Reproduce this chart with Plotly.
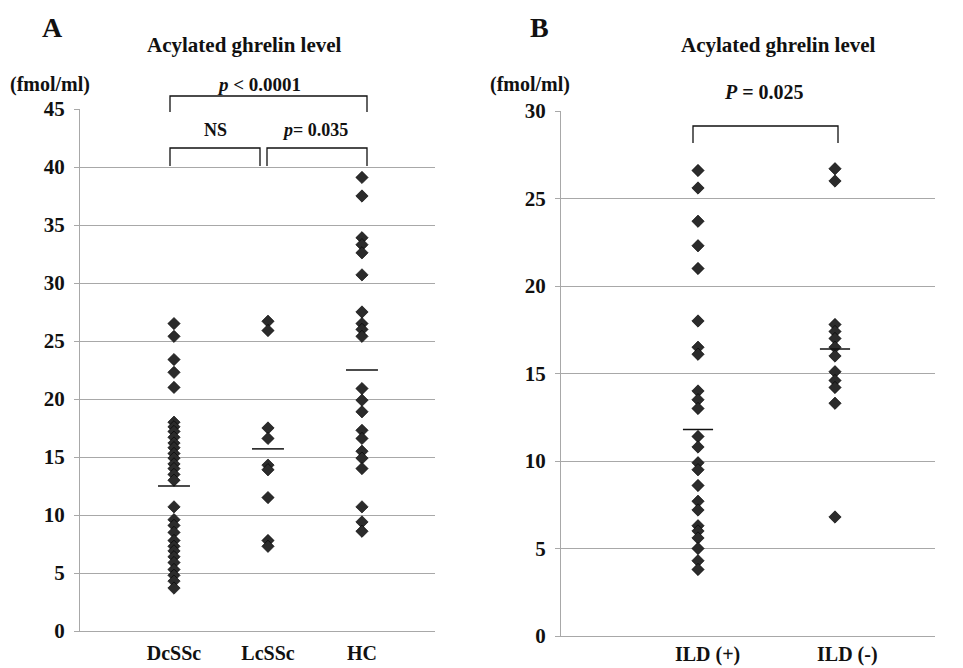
import plotly.graph_objects as go

# ---------------- data ----------------
cats_a = ["DcSSc", "LcSSc", "HC"]
dcssc = [26.5, 25.4, 23.4, 22.3, 21.0, 18.0, 17.6, 17.2, 16.7, 16.2, 15.8, 15.3, 14.9,
         14.4, 14.0, 13.5, 13.0, 10.7, 9.6, 9.1, 8.5, 7.8, 7.3, 6.9, 6.4, 5.9, 5.3,
         4.8, 4.3, 3.7]
lcssc = [26.7, 25.9, 17.5, 16.6, 14.3, 13.9, 11.5, 7.8, 7.3]
hc = [39.1, 37.5, 33.9, 33.3, 32.6, 30.7, 27.5, 26.5, 26.0, 25.4, 20.9, 19.9, 18.9,
      17.3, 16.6, 15.5, 14.9, 14.0, 10.7, 9.4, 8.6]
lines_a = [12.5, 15.7, 22.5]

cats_b = ["ILD (+)", "ILD (-)"]
ild_pos = [26.6, 25.6, 23.7, 22.3, 21.0, 18.0, 16.5, 16.1, 14.0, 13.5, 13.0, 11.4,
           10.8, 9.9, 9.5, 8.6, 7.7, 7.2, 6.3, 6.0, 5.6, 5.0, 4.3, 3.8]
ild_neg = [26.7, 26.0, 17.8, 17.4, 17.0, 16.5, 16.0, 15.1, 14.6, 14.2, 13.3, 6.8]
lines_b = [11.8, 16.4]

yticks_a = list(range(0, 50, 5))
yticks_b = list(range(0, 35, 5))

# ---------------- layout helpers ----------------
W, H = 963, 668
def px(x):
    return x / W
def py(y):
    return 1 - y / H

FONT = "Liberation Serif"
MK = dict(symbol="diamond", size=9.5, color="#2b2b2b", line=dict(color="#000", width=0.6))

fig = go.Figure()

groups_a = [dcssc, lcssc, hc]
for i, vals in enumerate(groups_a):
    fig.add_trace(go.Scatter(x=[i] * len(vals), y=vals, mode="markers", marker=MK,
                             xaxis="x", yaxis="y", showlegend=False))
    fig.add_trace(go.Scatter(x=[i - 0.17, i + 0.17], y=[lines_a[i]] * 2, mode="lines",
                             line=dict(color="#111", width=1.5), xaxis="x", yaxis="y",
                             showlegend=False))

groups_b = [ild_pos, ild_neg]
for i, vals in enumerate(groups_b):
    fig.add_trace(go.Scatter(x=[i] * len(vals), y=vals, mode="markers", marker=MK,
                             xaxis="x2", yaxis="y2", showlegend=False))
    fig.add_trace(go.Scatter(x=[i - 0.11, i + 0.11], y=[lines_b[i]] * 2, mode="lines",
                             line=dict(color="#111", width=1.5), xaxis="x2", yaxis="y2",
                             showlegend=False))

tickfont = dict(family=FONT, size=21, color="#111", weight="bold")
xtickfont = dict(family=FONT, size=20, color="#111", weight="bold")
gridc = "#a8a8a8"

common_y = dict(showgrid=True, gridcolor=gridc, gridwidth=1, showline=True, linecolor=gridc,
                linewidth=1, ticks="outside", ticklen=5, tickcolor=gridc, dtick=5,
                tickfont=tickfont, zeroline=False, ticklabelstandoff=5, automargin=False)
common_x = dict(showgrid=False, showline=True, linecolor=gridc, linewidth=1, ticks="",
                tickfont=xtickfont, zeroline=False, automargin=False)

fig.update_layout(
    width=W, height=H, margin=dict(l=0, r=0, t=0, b=0),
    paper_bgcolor="white", plot_bgcolor="white",
    xaxis=dict(domain=[px(80), px(435)], range=[-1.0, 2.777], tickvals=[0, 1, 2],
               ticktext=cats_a, anchor="y", ticklabelstandoff=4, **common_x),
    yaxis=dict(domain=[py(631), py(109)], range=[0, 45], tickvals=yticks_a,
               anchor="x", **common_y),
    xaxis2=dict(domain=[px(561), px(935)], range=[-1.0, 1.73], tickvals=[0.07, 1.09],
                ticktext=cats_b, anchor="y2", ticklabelstandoff=0, **common_x),
    yaxis2=dict(domain=[py(636), py(111)], range=[0, 30], tickvals=yticks_b,
                anchor="x2", **common_y),
)

def txt(x, y, s, size=17):
    fig.add_annotation(x=px(x), y=py(y), xref="paper", yref="paper", text=s,
                       showarrow=False, xanchor="center", yanchor="middle",
                       font=dict(family=FONT, size=size, color="#111", weight="bold"))

txt(52, 27, "A", 28)
txt(244, 45, "Acylated ghrelin level", 21)
txt(50, 84, "(fmol/ml)", 20)
txt(259, 84, "<i>p</i> &lt; 0.0001", 19)
txt(215, 130, "NS", 18)
txt(315, 130, "<i>p</i>= 0.035", 18)

txt(539, 27, "B", 28)
txt(778, 45, "Acylated ghrelin level", 21)
txt(530, 84, "(fmol/ml)", 20)
txt(764, 92, "<i>P</i> = 0.025", 20)

def bracket(x0, x1, ytop, ybot):
    fig.add_shape(type="path", xref="paper", yref="paper",
                  path=f"M {px(x0)} {py(ybot)} L {px(x0)} {py(ytop)} L {px(x1)} {py(ytop)} L {px(x1)} {py(ybot)}",
                  line=dict(color="#111", width=1.3))

bracket(170, 367, 96, 112)
bracket(170, 260, 148, 166)
bracket(267, 367, 148, 166)
bracket(693, 838, 126, 143)

fig.write_html("out.html")
